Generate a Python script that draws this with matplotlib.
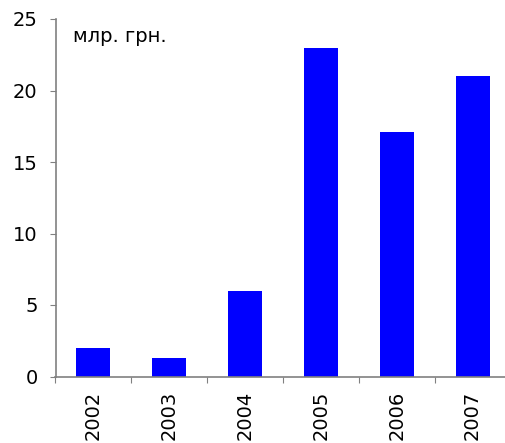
import matplotlib
matplotlib.use("Agg")
import matplotlib.pyplot as plt

years = ["2002", "2003", "2004", "2005", "2006", "2007"]
values = [2.0, 1.3, 6.0, 23.0, 17.1, 21.0]
yticks = [0, 5, 10, 15, 20, 25]

W, H = 505, 443
fig = plt.figure(figsize=(W/100, H/100), dpi=100)
left, right, bottom, top = 55.5, 510.5, 376.5, 19
ax = fig.add_axes([left/W, 1 - bottom/H, (right-left)/W, (bottom-top)/H])

x = list(range(len(years)))
ax.bar(x, values, width=0.45, color="#0000ff", zorder=2)
ax.set_xlim(-0.5, len(years) - 0.5)
ax.set_ylim(0, 25)
ax.set_yticks(yticks)
ax.set_yticklabels([str(t) for t in yticks], fontsize=14)
ax.set_xticks([i - 0.5 for i in range(len(years) + 1)])
ax.set_xticklabels([])
ax.set_xticks(x, minor=True)
ax.set_xticklabels(years, minor=True, rotation=90, fontsize=14)
ax.tick_params(axis="x", which="minor", length=0, pad=10)
ax.tick_params(axis="x", which="major", length=4, color="#808080", direction="out")
ax.tick_params(axis="y", length=4.3, color="#808080", direction="out", pad=8.5)
for s in ["top", "right"]:
    ax.spines[s].set_visible(False)
for s in ["left", "bottom"]:
    ax.spines[s].set_color("#808080")
    ax.spines[s].set_linewidth(1.2)
ax.text(73/W, 1 - 36/H, "млр. грн.", transform=fig.transFigure, fontsize=14,
        va="center", ha="left")
fig.savefig("out.png", dpi=100)
